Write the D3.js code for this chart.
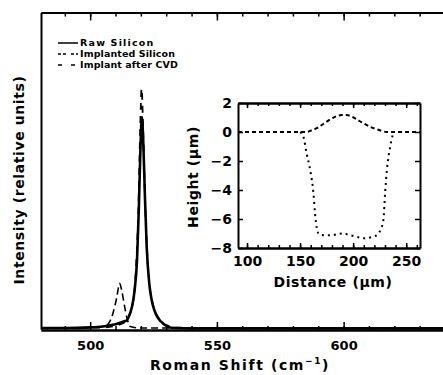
<!DOCTYPE html>
<html>
<head>
<meta charset="utf-8">
<script src="https://cdn.jsdelivr.net/npm/d3@7"></script>
<style>
  html, body { margin: 0; padding: 0; background: #fff; }
  svg { display: block; }
  text { font-family: "DejaVu Sans", sans-serif; font-weight: bold; fill: #000; }
</style>
</head>
<body>
<div id="vis"><svg width="443" height="375"></svg></div>
<script>
// Raman spectra, [shift cm^-1, relative intensity]
const rawSilicon = [
  [480.6, 0.3], [490, 0.3], [500, 0.5], [505, 0.8], [510, 1.5], [513, 2.3],
  [514.5, 2.8], [515.5, 4.5], [516.5, 7], [517.5, 12], [518.5, 22], [519.2, 38],
  [519.8, 56], [520.4, 67], [521, 58], [521.6, 42], [522.3, 26], [523.3, 14.5],
  [524.3, 9], [525.3, 6], [526.5, 3.8], [528, 2.3], [530, 1], [532, 0.4],
  [540, 0.2], [640, 0.2]
];
const implantedSilicon = [
  [480.6, 0.3], [500, 0.4], [505, 0.8], [507, 1.5], [509, 5], [510.5, 10],
  [511.6, 14.4], [512.5, 12], [513.5, 7.5], [514.5, 3.5], [515.8, 0.8],
  [520, 0.3], [640, 0.3]
];
const implantAfterCvd = [
  [480.6, 0.2], [505, 0.5], [512, 1.5], [515, 3.5], [517, 9], [518, 18],
  [519.1, 40], [519.7, 62], [520.3, 76], [520.9, 63], [521.5, 45], [522.3, 27],
  [523.3, 15], [525, 7], [527, 3.5], [530, 1.2], [535, 0.4], [640, 0.2]
];
const ramanTicks = [500, 550, 600];
const ramanMinorTicks = d3.range(490, 641, 10);
const legendLabels = ["Raw Silicon", "Implanted Silicon", "Implant after CVD"];

// inset: surface profile, [distance um, height um]
const profileHump = [
  [91.5, 0], [120, 0], [140, 0], [155.8, 0], [161, 0.12], [165.7, 0.26],
  [170.4, 0.48], [175.1, 0.72], [179.7, 0.92], [184.6, 1.1], [189, 1.17],
  [194, 1.17], [198.4, 1.07], [203.4, 0.87], [207.7, 0.68], [212.8, 0.48],
  [217.1, 0.32], [222.2, 0.19], [226.4, 0.09], [231.6, 0], [246, 0], [263, 0]
];
const profileTrench = [
  [150.1, 0], [153.2, -0.35], [156.2, -1.48], [159.5, -2.62], [162.6, -4.23],
  [164.1, -5.61], [165.7, -6.62], [167.3, -7.01], [168.8, -7.1], [174.5, -7.12],
  [181.4, -7.1], [186, -7.03], [190.8, -6.99], [195.3, -7.08], [200.3, -7.17],
  [204.6, -7.25], [209.7, -7.33], [213.9, -7.3], [219.1, -7.21], [223.3, -7.06],
  [225.9, -6.72], [228.5, -6.07], [230.1, -4.23], [231.8, -2.62], [234.9, -1.02],
  [237.4, -0.2], [238.9, 0]
];
const insetXTicks = [100, 150, 200, 250];
const insetXMinorTicks = d3.range(100, 261, 10);
const insetYTicks = [2, 0, -2, -4, -6, -8];

const svg = d3.select("#vis").select("svg");

// main panel
const x = d3.scaleLinear().domain([480.6, 640]).range([41, 445]);
const y = d3.scaleLinear().domain([0, 100]).range([329, 12.5]);

function frameAxis(g, axis, ticks, size, labels) {
  g.call(axis.tickValues(ticks).tickSize(size).tickSizeOuter(0)
    .tickFormat(labels ? d3.format("d") : ""));
  g.selectAll("path.domain").attr("stroke", "#000").attr("stroke-width", 2);
  g.selectAll(".tick line").attr("stroke", "#000").attr("stroke-width", 1.5);
  return g;
}

frameAxis(svg.append("g").attr("transform", "translate(0,330)"),
  d3.axisBottom(x), ramanMinorTicks, -4, false);
const bottomMajor = svg.append("g").attr("transform", "translate(0,330)");
frameAxis(bottomMajor, d3.axisBottom(x).tickPadding(11), ramanTicks, -8, true);
bottomMajor.selectAll(".tick text")
  .attr("font-size", 13).attr("font-family", "DejaVu Sans").attr("font-weight", "bold");

frameAxis(svg.append("g").attr("transform", "translate(0,12.5)"),
  d3.axisTop(x), ramanMinorTicks, -4, false);
frameAxis(svg.append("g").attr("transform", "translate(0,12.5)"),
  d3.axisTop(x), ramanTicks, -8, false);

frameAxis(svg.append("g").attr("transform", "translate(41,0)"),
  d3.axisLeft(y), [], 0, false);

const line = d3.line().x(d => x(d[0])).y(d => y(d[1])).curve(d3.curveMonotoneX);

const series = [
  { data: rawSilicon, dash: null, width: 2.6 },
  { data: implantedSilicon, dash: "7,4", width: 1.6 },
  { data: implantAfterCvd, dash: "7,6", width: 1.8 }
];
svg.append("g").selectAll("path")
  .data(series)
  .join("path")
  .attr("d", d => line(d.data))
  .attr("fill", "none")
  .attr("stroke", "#000")
  .attr("stroke-width", d => d.width)
  .attr("stroke-dasharray", d => d.dash);

// legend
const legendDash = [null, "3,2,3,5", "4,9"];
const legend = svg.append("g").attr("transform", "translate(58,43)");
legend.selectAll("g")
  .data(legendLabels)
  .join("g")
  .attr("transform", (d, i) => `translate(0,${i * 11})`)
  .call(g => g.append("line")
    .attr("x1", 0).attr("x2", 20)
    .attr("stroke", "#000").attr("stroke-width", 1.5)
    .attr("stroke-dasharray", (d, i) => legendDash[i]))
  .call(g => g.append("text")
    .attr("x", 22).attr("dy", "0.35em")
    .attr("font-size", 9.5)
    .attr("letter-spacing", (d, i) => i === 0 ? 1.2 : 0.1)
    .text(d => d));

// axis titles
svg.append("text")
  .attr("transform", "translate(24,180) rotate(-90)")
  .attr("text-anchor", "middle")
  .attr("font-size", 14).attr("letter-spacing", 0.6)
  .text("Intensity (relative units)");

const xTitle = svg.append("text")
  .attr("x", 240).attr("y", 370)
  .attr("text-anchor", "middle")
  .attr("font-size", 14).attr("letter-spacing", 1.6);
xTitle.append("tspan").text("Roman Shift (cm");
xTitle.append("tspan").attr("dy", -6).attr("font-size", 9).text("−1");
xTitle.append("tspan").attr("dy", 6).text(")");

// inset panel
const ix = d3.scaleLinear().domain([91.5, 263]).range([238, 420]);
const iy = d3.scaleLinear().domain([-8, 2]).range([248, 103]);

const inset = svg.append("g");
inset.append("rect")
  .attr("x", ix.range()[0]).attr("y", iy.range()[1])
  .attr("width", ix.range()[1] - ix.range()[0])
  .attr("height", iy.range()[0] - iy.range()[1])
  .attr("fill", "#fff");

frameAxis(inset.append("g").attr("transform", `translate(0,${iy(-8)})`),
  d3.axisBottom(ix), insetXMinorTicks, -3, false);
const ibMajor = inset.append("g").attr("transform", `translate(0,${iy(-8)})`);
frameAxis(ibMajor, d3.axisBottom(ix).tickPadding(8), insetXTicks, -5, true);
ibMajor.selectAll(".tick text").attr("font-size", 14).attr("font-weight", "bold")
  .attr("font-family", "DejaVu Sans");

frameAxis(inset.append("g").attr("transform", `translate(0,${iy(2)})`),
  d3.axisTop(ix), insetXMinorTicks, -3, false);
frameAxis(inset.append("g").attr("transform", `translate(0,${iy(2)})`),
  d3.axisTop(ix), insetXTicks, -5, false);

const il = inset.append("g").attr("transform", `translate(${ix(91.5)},0)`);
frameAxis(il, d3.axisLeft(iy).tickPadding(6), insetYTicks, -5, true);
il.selectAll(".tick text").attr("font-size", 14).attr("font-weight", "bold")
  .attr("font-family", "DejaVu Sans").text(d => d < 0 ? "−" + (-d) : d);
frameAxis(inset.append("g").attr("transform", `translate(${ix(263)},0)`),
  d3.axisRight(iy), insetYTicks, -5, false);

const iline = d3.line().x(d => ix(d[0])).y(d => iy(d[1])).curve(d3.curveMonotoneX);
inset.append("path")
  .attr("d", iline(profileHump))
  .attr("fill", "none").attr("stroke", "#000")
  .attr("stroke-width", 2).attr("stroke-dasharray", "4,3");
inset.append("path")
  .attr("d", iline(profileTrench))
  .attr("fill", "none").attr("stroke", "#000")
  .attr("stroke-width", 2).attr("stroke-dasharray", "2,4");

inset.append("text")
  .attr("x", 333).attr("y", 287)
  .attr("text-anchor", "middle")
  .attr("font-size", 14).attr("letter-spacing", 0.6)
  .text("Distance (µm)");
inset.append("text")
  .attr("transform", "translate(198,177) rotate(-90)")
  .attr("text-anchor", "middle")
  .attr("font-size", 14).attr("letter-spacing", 0.6)
  .text("Height (µm)");
</script>
</body>
</html>
